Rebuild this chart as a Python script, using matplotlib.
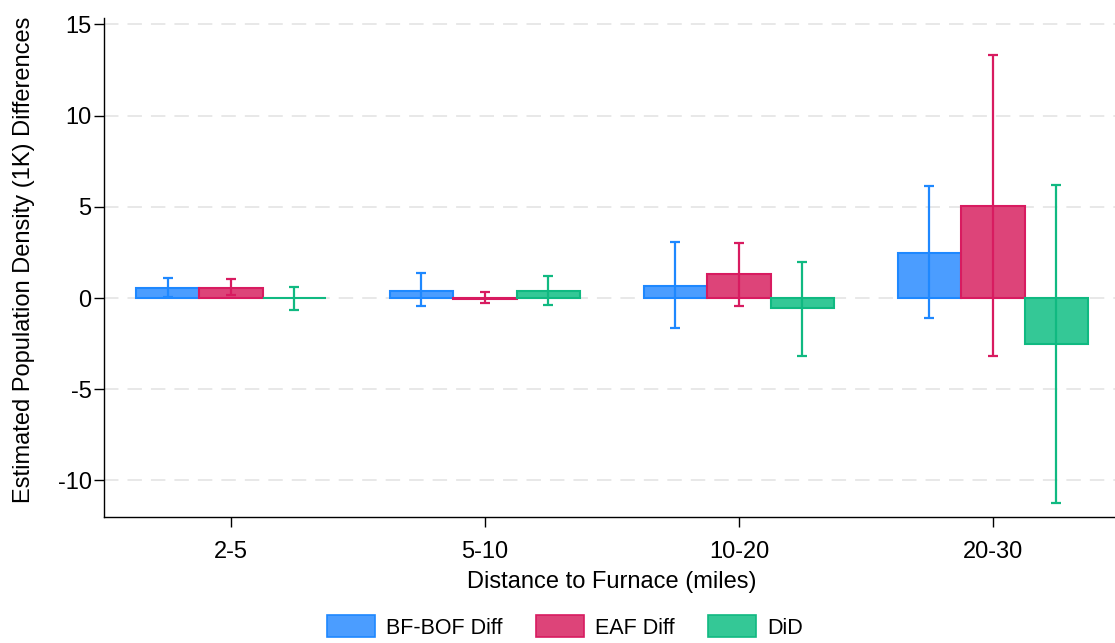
import numpy as np
import matplotlib.pyplot as plt
from matplotlib.patches import Patch

plt.rcParams["font.family"] = ["Liberation Sans", "DejaVu Sans"]
plt.rcParams["axes.unicode_minus"] = False

# distance bands and estimates (1K)
bands = ["2-5", "5-10", "10-20", "20-30"]
series = ["BF-BOF Diff", "EAF Diff", "DiD"]

bf_bof = [0.53, 0.40, 0.66, 2.49]
bf_bof_lo = [0.05, -0.46, -1.62, -1.12]
bf_bof_hi = [1.08, 1.36, 3.06, 6.15]

eaf = [0.55, -0.03, 1.30, 5.02]
eaf_lo = [0.15, -0.26, -0.42, -3.17]
eaf_hi = [1.03, 0.31, 3.04, 13.30]

did = [-0.02, 0.38, -0.57, -2.53]
did_lo = [-0.66, -0.38, -3.17, -11.25]
did_hi = [0.59, 1.23, 1.98, 6.17]

edge_colors = ["#1E88FF", "#D81B60", "#10B981"]
fill_colors = ["#4B9DFF", "#DD4479", "#34C896"]

fig = plt.figure(figsize=(11.15, 6.43), dpi=100)
fig.patch.set_facecolor("white")
ax = fig.add_axes([0.0933, 0.196, 0.911, 0.776])

x = np.arange(len(bands))
w = 0.25
vals = [bf_bof, eaf, did]
los = [bf_bof_lo, eaf_lo, did_lo]
his = [bf_bof_hi, eaf_hi, did_hi]

for k in range(3):
    pos = x + (k - 1) * w
    v = np.array(vals[k])
    yerr = [v - np.array(los[k]), np.array(his[k]) - v]
    ax.bar(pos, v, width=w, color=fill_colors[k], edgecolor=edge_colors[k],
           linewidth=1.5, zorder=2)
    ax.errorbar(pos, v, yerr=yerr, fmt="none", ecolor=edge_colors[k],
                elinewidth=1.6, capsize=3.8, capthick=1.6, zorder=3)

ax.set_xlim(-0.5, 3.5)
ax.set_ylim(-12.0, 15.35)
ax.set_yticks([-10, -5, 0, 5, 10, 15])
ax.set_xticks(x)
ax.set_xticklabels(bands)
ax.tick_params(axis="both", labelsize=17, direction="out", length=7, width=1,
               colors="black")
ax.tick_params(axis="y", pad=2)
ax.tick_params(axis="x", pad=10)
ax.yaxis.grid(True, linestyle=(0, (8, 5)), color="#E6E6E6", linewidth=1.3, zorder=0)
ax.set_axisbelow(True)
for side in ["top", "right"]:
    ax.spines[side].set_visible(False)
ax.spines["left"].set_linewidth(1)
ax.spines["bottom"].set_linewidth(1)

ax.set_xlabel("Distance to Furnace (miles)", fontsize=17, labelpad=6)
ax.set_ylabel("Estimated Population Density (1K) Differences", fontsize=17)
ax.yaxis.set_label_coords(-0.068, 0.515)

handles = [Patch(facecolor=fill_colors[k], edgecolor=edge_colors[k], linewidth=1.2,
                 label=series[k]) for k in range(3)]
fig.legend(handles=handles, loc="center", bbox_to_anchor=(0.507, 0.025), ncol=3,
           frameon=False, fontsize=15.5, handlelength=2.2, handleheight=1.2,
           handletextpad=0.55, columnspacing=1.55)

fig.savefig("out.png", dpi=100, facecolor="white")
